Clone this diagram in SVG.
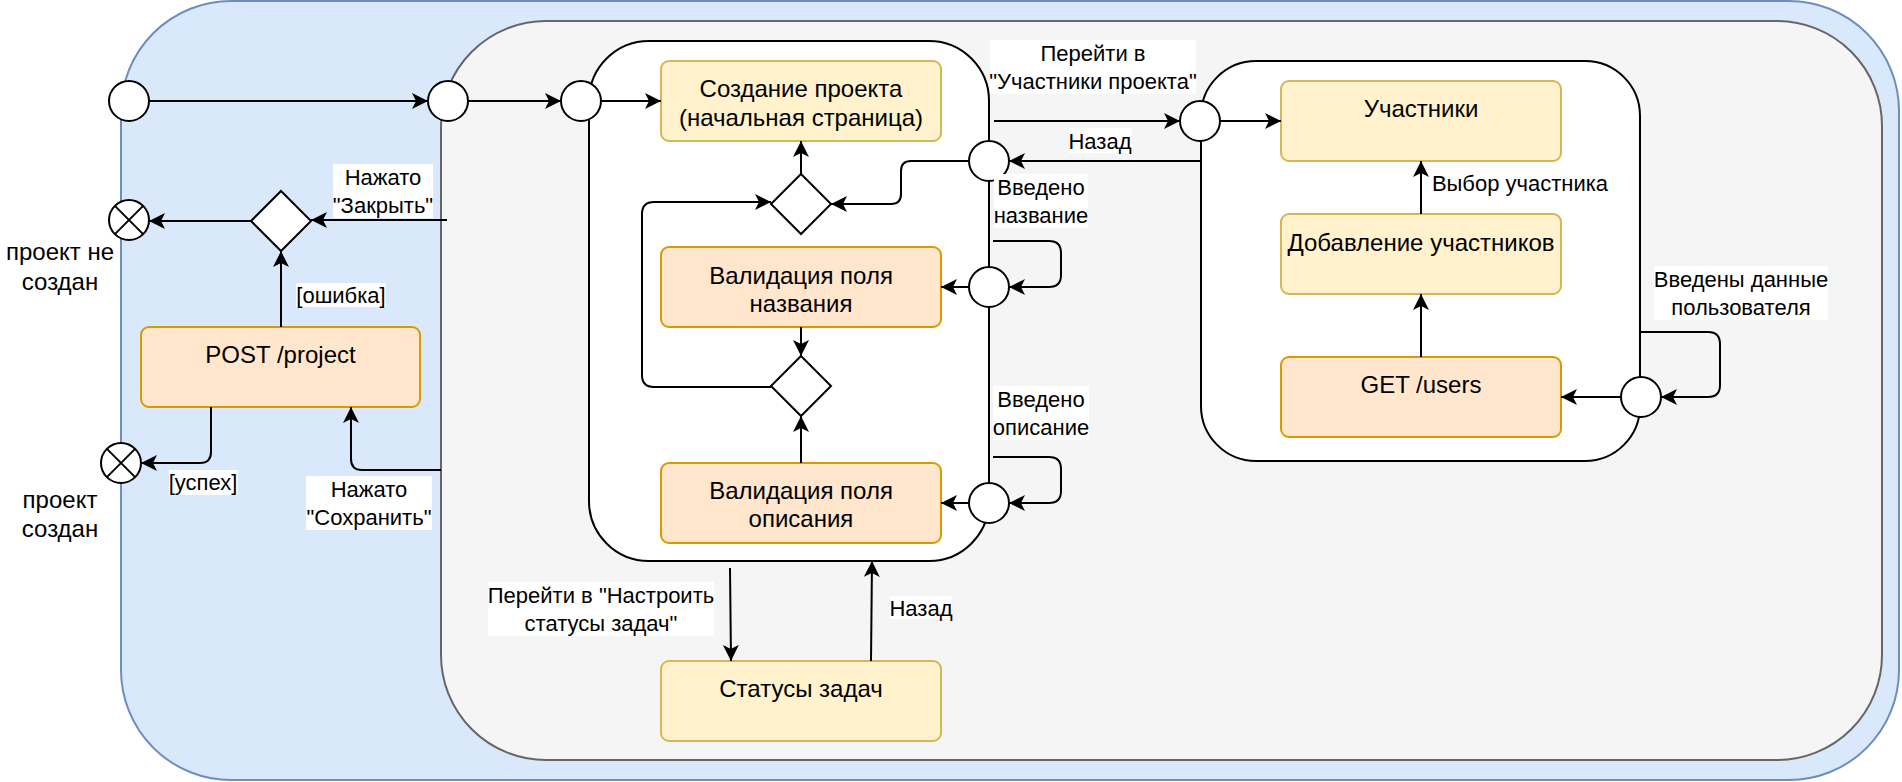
<svg xmlns="http://www.w3.org/2000/svg" width="1902" height="782" viewBox="0 0 1902 782">
<style>
.node text, text{font-family:"Liberation Sans",Arial,sans-serif;fill:#000}
.nt{font-size:24px;text-anchor:middle}
.lt{font-size:22px;text-anchor:middle}
.yel{fill:#fff2cc;stroke:#d6b656;stroke-width:2}
.org{fill:#ffe6cc;stroke:#d79b00;stroke-width:2}
.circ{fill:#fff;stroke:#000;stroke-width:2}
.dia{fill:#fff;stroke:#000;stroke-width:2}
.cont{fill:#fff;stroke:#000;stroke-width:2}
.bg{fill:#fff}
#connectors path{fill:none;stroke:#000;stroke-width:2;marker-end:url(#arr)}
</style>
<defs>
<marker id="arr" markerUnits="userSpaceOnUse" markerWidth="18" markerHeight="18" refX="16" refY="8" orient="auto">
<path d="M0,0 L16,8 L0,16 L4,8 Z" fill="#000"/>
</marker>
</defs>
<g id="outer"><rect x="121" y="1" width="1778" height="779" rx="110" fill="#dae8fc" stroke="#6c8ebf" stroke-width="2"/></g>
<g id="inner"><rect x="441" y="21" width="1441" height="739" rx="105" fill="#f5f5f5" stroke="#666666" stroke-width="2"/></g>
<g id="create-container"><rect class="cont" x="589" y="41" width="400" height="520" rx="60"/></g>
<g id="members-container"><rect class="cont" x="1201" y="61" width="439" height="400" rx="55"/></g>

<g id="n-create" class="node"><rect class="yel" x="661" y="61" width="280" height="80" rx="8"/><text class="nt" x="801" y="96.5">Создание проекта</text><text class="nt" x="801" y="125.5">(начальная страница)</text></g>
<g id="n-valname" class="node"><rect class="org" x="661" y="247" width="280" height="80" rx="8"/><text class="nt" x="801" y="283.5">Валидация поля</text><text class="nt" x="801" y="311.5">названия</text></g>
<g id="n-valdesc" class="node"><rect class="org" x="661" y="463" width="280" height="80" rx="8"/><text class="nt" x="801" y="498.5">Валидация поля</text><text class="nt" x="801" y="526.5">описания</text></g>
<g id="n-statuses" class="node"><rect class="yel" x="661" y="661" width="280" height="80" rx="8"/><text class="nt" x="801" y="696.5">Статусы задач</text></g>
<g id="n-post" class="node"><rect class="org" x="141" y="327" width="279" height="80" rx="8"/><text class="nt" x="280.5" y="362.5">POST /project</text></g>
<g id="n-members" class="node"><rect class="yel" x="1281" y="81" width="280" height="80" rx="8"/><text class="nt" x="1421" y="116.5">Участники</text></g>
<g id="n-add" class="node"><rect class="yel" x="1281" y="214" width="280" height="80" rx="8"/><text class="nt" x="1421" y="250.5">Добавление участников</text></g>
<g id="n-get" class="node"><rect class="org" x="1281" y="357" width="280" height="80" rx="8"/><text class="nt" x="1421" y="392.5">GET /users</text></g>

<g id="d1" class="node"><polygon class="dia" points="281,191 311,221 281,251 251,221"/></g>
<g id="d2" class="node"><polygon class="dia" points="801,174 831,204 801,234 771,204"/></g>
<g id="d3" class="node"><polygon class="dia" points="801,356 831,386 801,416 771,386"/></g>

<g id="connectors">
<path d="M149,101 H428"/>
<path d="M468,101 H561"/>
<path d="M601,101 H661"/>
<path d="M447,220 H311"/>
<path d="M251,221 H149"/>
<path d="M281,327 V251"/>
<path d="M211,407 V452 Q211,463 200,463 H141"/>
<path d="M441,470 H362 Q351,470 351,459 V407"/>
<path d="M801,174 V141"/>
<path d="M969,161 H911 Q901,161 901,171 V194 Q901,204 891,204 H831"/>
<path d="M771,387 H654 Q642,387 642,375 V214 Q642,202 654,202 H771"/>
<path d="M994,121 H1180"/>
<path d="M1201,161 H1009"/>
<path d="M993,241 H1049 Q1061,241 1061,253 V275 Q1061,287 1049,287 H1009"/>
<path d="M969,287 H941"/>
<path d="M801,327 V356"/>
<path d="M993,457 H1049 Q1061,457 1061,469 V491 Q1061,503 1049,503 H1009"/>
<path d="M969,503 H941"/>
<path d="M801,463 V416"/>
<path d="M730,568 L731,661"/>
<path d="M871,661 L872,561"/>
<path d="M1220,121 H1281"/>
<path d="M1421,214 V161"/>
<path d="M1421,357 V294"/>
<path d="M1640,332 H1708 Q1720,332 1720,344 V385 Q1720,397 1708,397 H1661"/>
<path d="M1621,397 H1561"/>
</g>

<g id="c-start"><circle class="circ" cx="129" cy="101" r="20"/></g>
<g id="c-inner"><circle class="circ" cx="448" cy="101" r="20"/></g>
<g id="c-create"><circle class="circ" cx="581" cy="101" r="20"/></g>
<g id="c-back"><circle class="circ" cx="989" cy="161" r="20"/></g>
<g id="c-name"><circle class="circ" cx="989" cy="287" r="20"/></g>
<g id="c-desc"><circle class="circ" cx="989" cy="503" r="20"/></g>
<g id="c-members"><circle class="circ" cx="1200" cy="121" r="20"/></g>
<g id="c-users"><circle class="circ" cx="1641" cy="397" r="20"/></g>
<g id="x-notcreated"><circle class="circ" cx="129" cy="220" r="20"/><path d="M114.9,205.9 L143.1,234.1 M143.1,205.9 L114.9,234.1" stroke="#000" stroke-width="2"/></g>
<g id="x-created"><circle class="circ" cx="121" cy="463" r="20"/><path d="M106.9,448.9 L135.1,477.1 M135.1,448.9 L106.9,477.1" stroke="#000" stroke-width="2"/></g>

<g id="labels">
<text class="nt" x="60" y="259.5">проект не</text><text class="nt" x="60" y="289.5">создан</text>
<text class="nt" x="60" y="507.5">проект</text><text class="nt" x="60" y="536.5">создан</text>
<rect class="bg" x="333" y="164" width="100" height="54"/><text class="lt" x="383" y="185">Нажато</text><text class="lt" x="383" y="213">"Закрыть"</text>
<rect class="bg" x="296" y="283" width="90" height="24"/><text class="lt" x="341" y="303">[ошибка]</text>
<rect class="bg" x="169" y="470" width="69" height="25"/><text class="lt" x="203" y="490">[успех]</text>
<rect class="bg" x="306" y="476" width="126" height="54"/><text class="lt" x="369" y="497">Нажато</text><text class="lt" x="369" y="525">"Сохранить"</text>
<rect class="bg" x="488" y="582" width="226" height="54"/><text class="lt" x="601" y="603">Перейти в "Настроить</text><text class="lt" x="601" y="631">статусы задач"</text>
<rect class="bg" x="890" y="596" width="62" height="23"/><text class="lt" x="921" y="616">Назад</text>
<rect class="bg" x="990" y="40" width="206" height="54"/><text class="lt" x="1093" y="61">Перейти в</text><text class="lt" x="1093" y="89">"Участники проекта"</text>
<rect class="bg" x="1069" y="128" width="63" height="25"/><text class="lt" x="1100" y="149">Назад</text>
<rect class="bg" x="994" y="174" width="94" height="54"/><text class="lt" x="1041" y="195">Введено</text><text class="lt" x="1041" y="223">название</text>
<rect class="bg" x="993" y="386" width="96" height="54"/><text class="lt" x="1041" y="407">Введено</text><text class="lt" x="1041" y="435">описание</text>
<rect class="bg" x="1433" y="170" width="175" height="26"/><text class="lt" x="1520" y="191">Выбор участника</text>
<rect class="bg" x="1654" y="266" width="174" height="54"/><text class="lt" x="1741" y="287">Введены данные</text><text class="lt" x="1741" y="315">пользователя</text>
</g>
</svg>
